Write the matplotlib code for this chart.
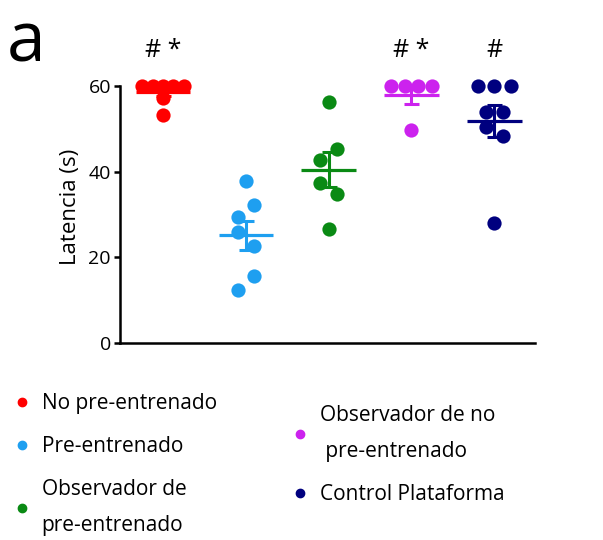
import numpy as np
import matplotlib
matplotlib.use("Agg")
import matplotlib.pyplot as plt
from matplotlib.lines import Line2D

# Latency per animal (s) for each group
groups = ["No pre-entrenado", "Pre-entrenado", "Observador de\npre-entrenado",
          "Observador de no\n pre-entrenado", "Control Plataforma"]
colors = ["#ff0000", "#1e9ff0", "#0a8a14", "#cc22ee", "#00007f"]

no_pre = [60, 60, 60, 60, 60, 57.1, 53.2]
pre = [37.8, 32.2, 29.5, 25.9, 22.7, 15.5, 12.4]
obs_pre = [56.3, 45.3, 42.6, 37.3, 34.7, 26.5]
obs_no_pre = [60, 60, 60, 60, 49.7]
control = [60, 60, 60, 53.8, 53.8, 50.3, 48.4, 27.9]

marks = ["# *", "", "", "# *", "#"]
yticks = [0, 20, 40, 60]

values = [no_pre, pre, obs_pre, obs_no_pre, control]

plt.rcParams['font.family'] = ['Open Sans', 'DejaVu Sans']


def scatter_offsets(v, gap=3.4, step=0.2, row_width=0.5):
    """Horizontal offsets: tied values share a row, close neighbours are paired."""
    v = sorted(v, reverse=True)
    counts = {x: v.count(x) for x in v}
    rows = []
    i = 0
    while i < len(v):
        n = counts[v[i]]
        if n == 1 and i + 1 < len(v) and counts[v[i + 1]] == 1 \
                and v[i] - v[i + 1] < gap:
            n = 2
        rows.append(v[i:i + n])
        i += n
    ys, xs = [], []
    pairs = 0
    for row in rows:
        n = len(row)
        if n == 1:
            offs = [0.0]
        else:
            s = min(step, row_width / (n - 1))
            offs = [(k - (n - 1) / 2) * s for k in range(n)]
            if n == 2:
                # higher point alternates between right and left
                if pairs % 2 == 0:
                    offs = offs[::-1]
                pairs += 1
        ys.extend(row)
        xs.extend(offs)
    return np.array(xs), np.array(ys)


fig = plt.figure(figsize=(6.03, 5.40), dpi=100)
ax = fig.add_axes([0.199, 0.365, 0.688, 0.476])

for i, (v, c) in enumerate(zip(values, colors)):
    dx, y = scatter_offsets(v)
    ax.scatter(i + dx, y, s=105, color=c, linewidths=0, clip_on=False,
               zorder=2)

    # mean +/- SEM
    arr = np.asarray(v, dtype=float)
    mean = arr.mean()
    sem = arr.std(ddof=1) / np.sqrt(len(arr))
    ax.hlines(mean, i - 0.33, i + 0.33, color=c, lw=2.3, zorder=3)
    ax.errorbar(i, mean, yerr=sem, fmt="none", ecolor=c, elinewidth=2.2,
                capsize=5.4, capthick=2.2, zorder=3)
    if marks[i]:
        ax.text(i, 68.3, marks[i], ha="center", va="center", fontsize=18,
                clip_on=False)

ax.set_xlim(-0.52, 4.49)
ax.set_ylim(0, 60)
ax.set_yticks(yticks)
ax.set_xticks([])
ax.set_ylabel("Latencia (s)", fontsize=16)
ax.yaxis.set_label_coords(-0.094, 0.53)
ax.tick_params(axis="y", labelsize=14, length=4.5, width=1.8, pad=2)
for side in ["top", "right"]:
    ax.spines[side].set_visible(False)
for side in ["left", "bottom"]:
    ax.spines[side].set_linewidth(1.8)

fig.text(0.012, 0.985, "a", fontsize=50, ha="left", va="top")

# legend split into two columns
def make_handles(idx):
    return [Line2D([], [], ls="", marker="o", markersize=6, color=colors[k])
            for k in idx]

leg_opts = dict(frameon=False, fontsize=15, handlelength=0.8,
                handletextpad=0.55, borderpad=0, borderaxespad=0,
                labelspacing=1.05, loc="upper left",
                bbox_transform=fig.transFigure)
left_idx = [0, 1, 2]
right_idx = [3, 4]
leg1 = ax.legend(make_handles(left_idx), [groups[k] for k in left_idx],
                 bbox_to_anchor=(13.6 / 603, 1 - 393 / 540), **leg_opts)
ax.add_artist(leg1)
leg2 = ax.legend(make_handles(right_idx), [groups[k] for k in right_idx],
                 bbox_to_anchor=(291.6 / 603, 1 - 405 / 540), **leg_opts)
for leg in (leg1, leg2):
    for t in leg.get_texts():
        t.set_linespacing(1.95)

fig.savefig("out.png", dpi=100)
